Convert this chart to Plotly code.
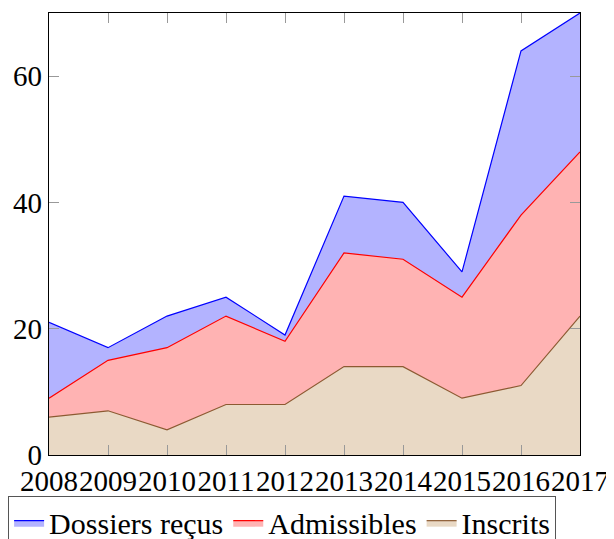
import plotly.graph_objects as go

annees = [2008, 2009, 2010, 2011, 2012, 2013, 2014, 2015, 2016, 2017]
dossiers = [21, 17, 22, 25, 19, 41, 40, 29, 64, 70]
admissibles = [9, 15, 17, 22, 18, 32, 31, 25, 38, 48]
inscrits = [6, 7, 4, 8, 8, 14, 14, 9, 11, 22]

series = [
    ('Dossiers reçus', dossiers, '#0000ff', '#b3b3ff'),
    ('Admissibles', admissibles, '#ff0000', '#ffb3b3'),
    ('Inscrits', inscrits, '#8c5a32', '#e9d9c5'),
]

fig = go.Figure()
for name, vals, line_c, fill_c in series:
    fig.add_trace(go.Scatter(
        x=annees, y=vals, name=name, mode='lines',
        line=dict(color=line_c, width=1.2),
        fill='tozeroy', fillcolor=fill_c,
    ))

# the page body adds an 8px margin, so the figure is a bit smaller than the window
fig.update_layout(
    width=606, height=531,
    margin=dict(l=41, r=34, t=5, b=84, autoexpand=False),
    paper_bgcolor='white', plot_bgcolor='white',
    font=dict(family='Liberation Serif', size=29, color='black'),
    showlegend=True,
    legend=dict(orientation='h', x=-0.077, xanchor='left', y=-0.092, yanchor='top',
                bordercolor='#555555', borderwidth=1, font=dict(size=30),
                itemwidth=30, tracegroupgap=0),
)
fig.update_xaxes(range=[2008, 2017], tickvals=annees, tickangle=0, showgrid=False,
                 zeroline=False, showline=True, linecolor='black', linewidth=1.2,
                 mirror='allticks', ticks='inside', ticklen=10, tickcolor='#999999',
                 tickwidth=1, automargin=False)
fig.update_yaxes(range=[0, 70], tickvals=[0, 20, 40, 60], showgrid=False, zeroline=False,
                 showline=True, linecolor='black', linewidth=1.2, mirror='allticks',
                 ticks='inside', ticklen=10, tickcolor='#999999', tickwidth=1,
                 automargin=False)

fig.write_html("out.html")
